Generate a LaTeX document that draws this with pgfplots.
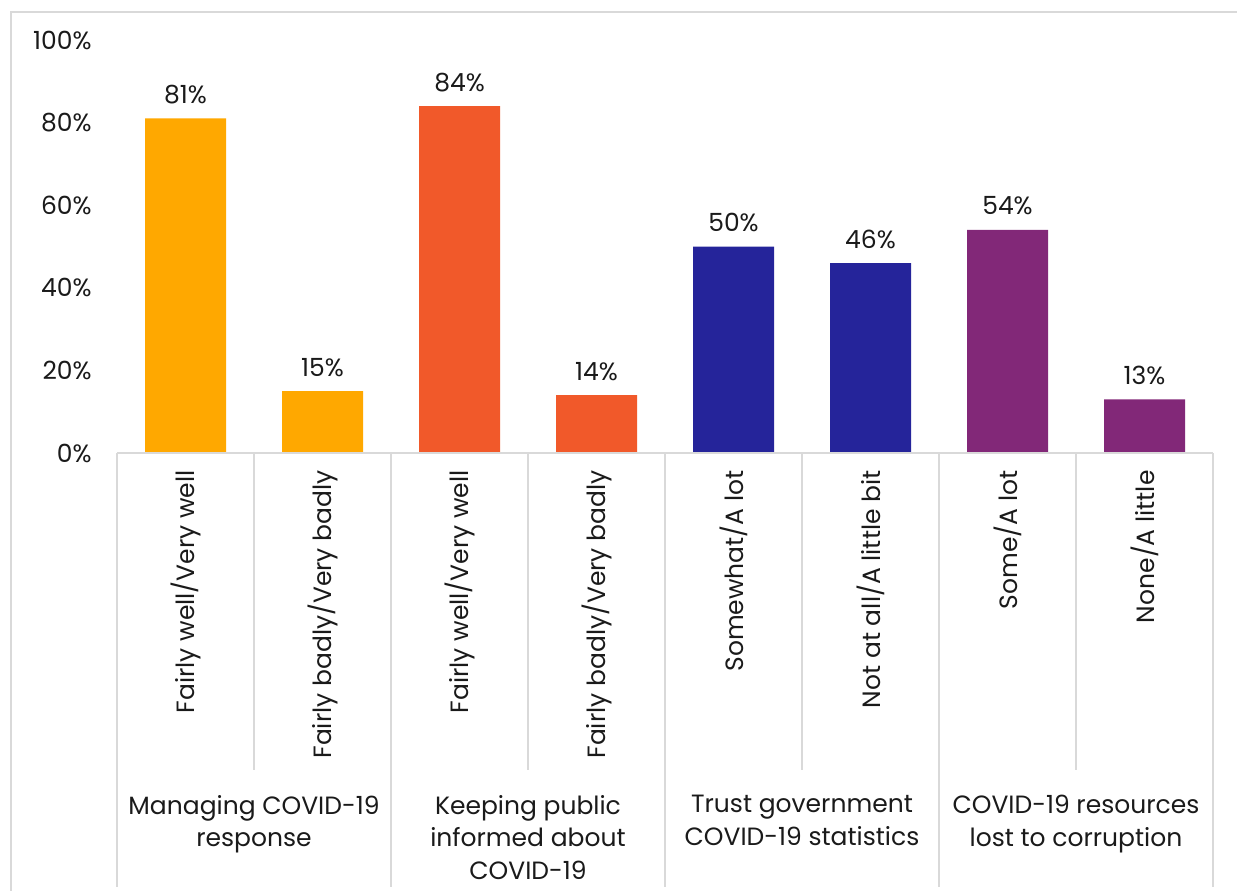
\documentclass[border=0pt]{standalone}
\usepackage{pgfplots}
\pgfplotsset{compat=1.18}
\usepackage{fontspec}
\setmainfont{Poppins}
\definecolor{cOr}{HTML}{FFA800}
\definecolor{cRd}{HTML}{F1592A}
\definecolor{cBl}{HTML}{25249A}
\definecolor{cPu}{HTML}{822878}
\definecolor{cGr}{HTML}{D9D9D9}
\definecolor{cTx}{HTML}{1A1A1A}
\begin{document}
\begin{tikzpicture}
\useasboundingbox (0pt,0pt) rectangle (618.5pt,-445pt);
\draw[cGr,line width=1pt] (5.25pt,-450pt) -- (5.25pt,-6pt) -- (625pt,-6pt);
\begin{axis}[
  at={(58.5pt,-226.5pt)}, anchor=south west,
  scale only axis, width=548pt, height=206.5pt,
  xmin=-0.5, xmax=7.5, ymin=0, ymax=100,
  ybar, bar width=40.5pt,
  /pgf/number format/assume math mode=true,
  axis line style={draw=none},
  major tick length=0pt,
  ytick={0,20,40,60,80,100},
  yticklabel={\pgfmathprintnumber{\tick}\%},
  yticklabel style={anchor=east, inner sep=0pt, xshift=-12.5pt, font=\fontsize{12.5}{15}\selectfont, text=cTx},
  xtick={0,1,2,3,4,5,6,7},
  xticklabels={Fairly well/Very well, Fairly badly/Very badly, Fairly well/Very well, Fairly badly/Very badly, Somewhat/A lot, Not at all/A little bit, Some/A lot, None/A little},
  xticklabel style={rotate=90, anchor=east, inner sep=0pt, font=\fontsize{12.5}{15}\selectfont, text=cTx},
  xticklabel shift=8.5pt,
  nodes near coords={\pgfmathprintnumber{\pgfplotspointmeta}\%},
  nodes near coords style={anchor=base, yshift=7.5pt, inner sep=0pt, font=\fontsize{12.5}{15}\selectfont, text=cTx},
  clip=false,
]
\addplot[fill=cOr, draw=none, bar shift=0pt] coordinates {(0,81) (1,15)};
\addplot[fill=cRd, draw=none, bar shift=0pt] coordinates {(2,84) (3,14)};
\addplot[fill=cBl, draw=none, bar shift=0pt] coordinates {(4,50) (5,46)};
\addplot[fill=cPu, draw=none, bar shift=0pt] coordinates {(6,54) (7,13)};
\draw[cGr, line width=1pt] (axis cs:-0.5,0) -- (axis cs:7.5,0);
\pgfplotsinvokeforeach{0.5,2.5,4.5,6.5}{
  \draw[cGr, line width=1pt] (axis cs:#1,0) -- ++(0pt,-158.5pt);
}
\pgfplotsinvokeforeach{-0.5,1.5,3.5,5.5,7.5}{
  \draw[cGr, line width=1pt] (axis cs:#1,0) -- ++(0pt,-217pt);
}
\node[align=center, anchor=north, inner sep=0pt, font=\fontsize{12.5}{16.25}\selectfont, text=cTx] at (axis cs:0.5,0) [yshift=-171pt] {Managing COVID-19\\response};
\node[align=center, anchor=north, inner sep=0pt, font=\fontsize{12.5}{16.25}\selectfont, text=cTx] at (axis cs:2.5,0) [yshift=-171pt] {Keeping public\\informed about\\COVID-19};
\node[align=center, anchor=north, inner sep=0pt, font=\fontsize{12.5}{16.25}\selectfont, text=cTx] at (axis cs:4.5,0) [yshift=-171pt] {Trust government\\COVID-19 statistics};
\node[align=center, anchor=north, inner sep=0pt, font=\fontsize{12.5}{16.25}\selectfont, text=cTx] at (axis cs:6.5,0) [yshift=-171pt] {COVID-19 resources\\lost to corruption};
\end{axis}
\end{tikzpicture}
\end{document}
